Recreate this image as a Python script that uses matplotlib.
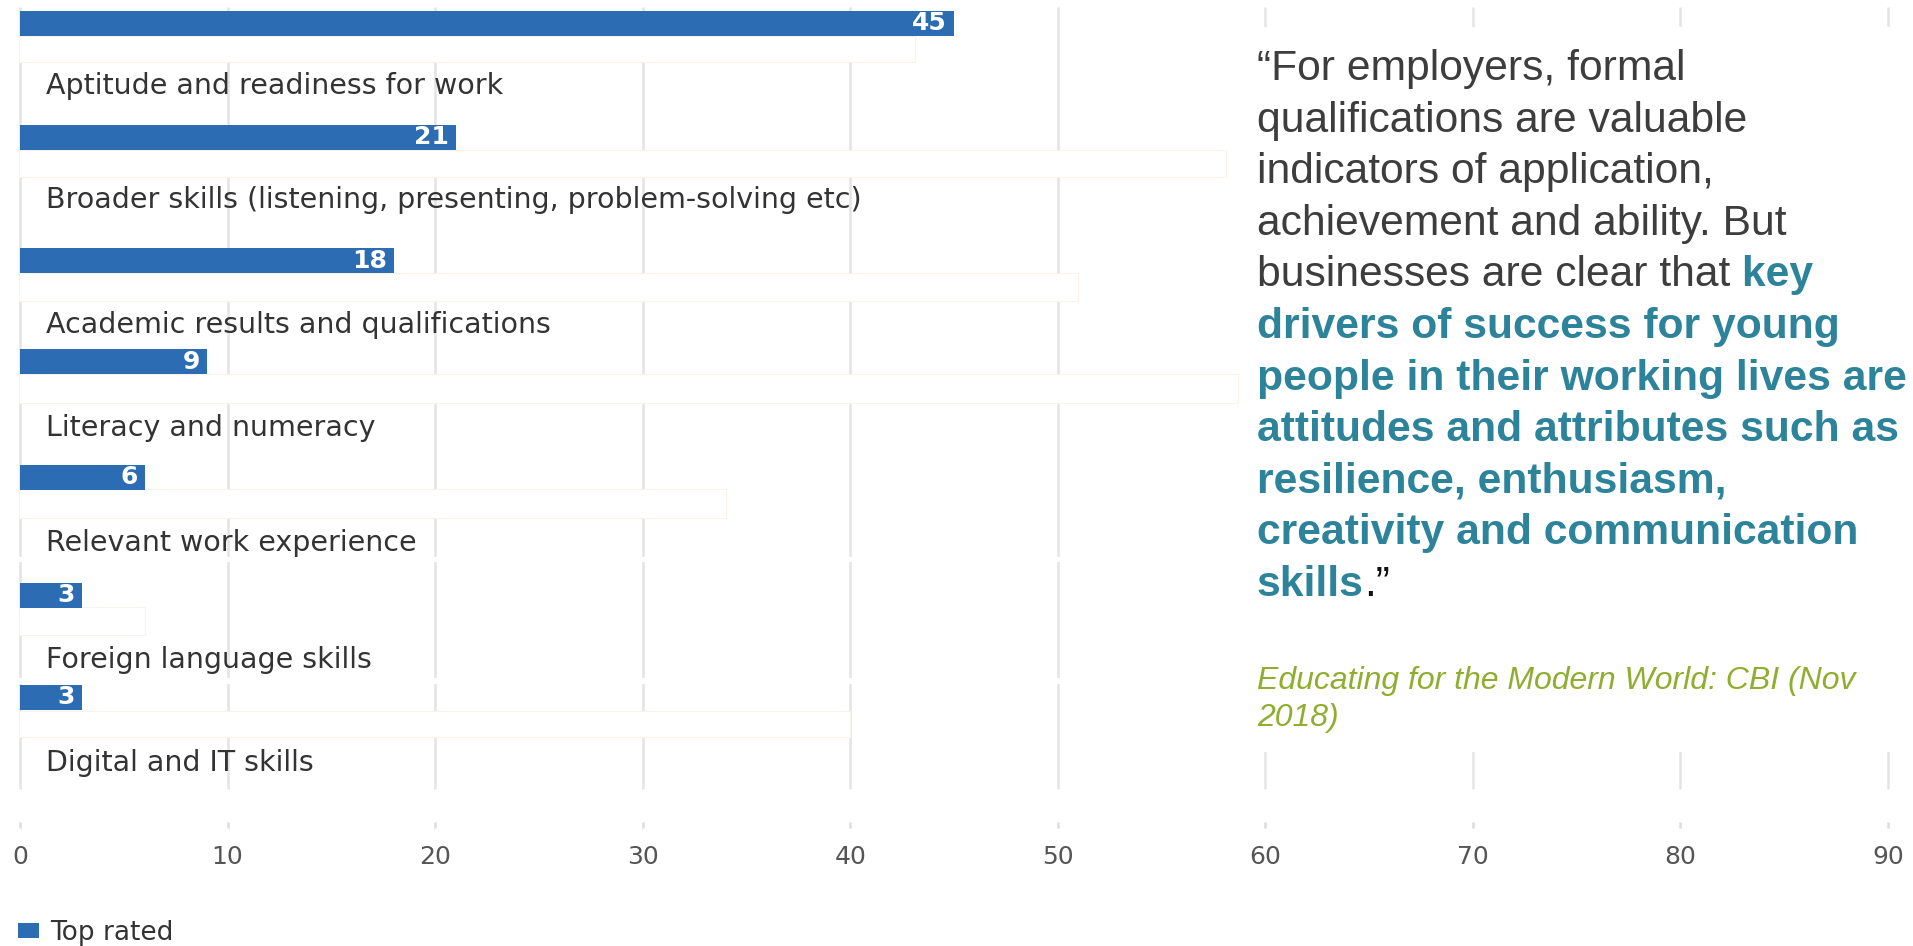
import matplotlib
matplotlib.use("Agg")
import matplotlib.pyplot as plt
from matplotlib.patches import Rectangle

# ---------------- data ----------------
categories = [
    "Aptitude and readiness for work",
    "Broader skills (listening, presenting, problem-solving etc)",
    "Academic results and qualifications",
    "Literacy and numeracy",
    "Relevant work experience",
    "Foreign language skills",
    "Digital and IT skills",
]
values = [45, 21, 18, 9, 6, 3, 3]
series_name = "Top rated"
x_ticks = [0, 10, 20, 30, 40, 50, 60, 70, 80, 90]

quote_lines = [
    [("\u201cFor employers, formal", "n")],
    [("qualifications are valuable", "n")],
    [("indicators of application,", "n")],
    [("achievement and ability. But", "n")],
    [("businesses are clear that", "n"), (" key", "b")],
    [("drivers of success for young", "b")],
    [("people in their working lives are", "b")],
    [("attitudes and attributes such as", "b")],
    [("resilience, enthusiasm,", "b")],
    [("creativity and communication", "b")],
    [("skills", "b"), (".\u201d", "k")],
]
source_lines = ["Educating for the Modern World: CBI (Nov", "2018)"]

# ---------------- layout (pixels) ----------------
W, H = 1913, 946
PX0, PX90 = 20, 1888
bar_y = [23.5, 137.5, 260.5, 361.5, 477, 595, 697]
label_y = [86, 200, 325, 428, 543, 660, 763]
bar_h = 25
# white masking strips (x_end, y_top, y_bottom, faint_edge)
masks = [
    (915, 36, 62, True),
    (1226, 150, 177, True),
    (1078, 273, 301, True),
    (1238, 374, 403, True),
    (726, 489, 518, True),
    (145, 607, 635, True),
    (850, 711, 737, True),
    (1238, 557, 562, False),
    (1238, 678, 684, False),
]

BLUE = "#2b6cb3"
GRID = "#e4e4e4"
TXT = "#333333"
TEAL = "#2d849a"
OLIVE = "#8fae2f"
QUOTE = "#3d3d3d"


def px2x(p):
    return (p - PX0) * 90.0 / (PX90 - PX0)


fig = plt.figure(figsize=(W / 100, H / 100), dpi=100)
fig.patch.set_facecolor("white")
ax = fig.add_axes([0, 0, 1, 1])
ax.set_xlim(px2x(0), px2x(W))
ax.set_ylim(H, 0)
ax.axis("off")

# gridlines and ticks
ax.vlines(x_ticks, 7, 789, color=GRID, lw=1.8, zorder=1)
ax.vlines(x_ticks, 822, 828, color="#dcdcdc", lw=1.8, zorder=1)
for t in x_ticks:
    ax.text(t, 857, str(t), ha="center", va="center", fontsize=18,
            color="#555555", family="DejaVu Sans")

# masks
for xe, y0, y1, edge in masks:
    r = Rectangle((px2x(PX0 - 1), y0), px2x(xe) - px2x(PX0 - 1), y1 - y0,
                  facecolor="white", edgecolor="#fdf2ea" if edge else "none",
                  lw=0.8, zorder=2)
    ax.add_patch(r)

# text box area on the right
ax.add_patch(Rectangle((px2x(1240), 27), px2x(W + 5) - px2x(1240), 752 - 27,
                       facecolor="white", edgecolor="none", zorder=2))

# bars
bars = ax.barh(bar_y, values, height=bar_h, left=0, color=BLUE, zorder=3,
               label=series_name)
for v, y in zip(values, bar_y):
    ax.text(v - 0.34, y, str(v), ha="right", va="center", color="white",
            fontweight="bold", fontsize=18, zorder=4, family="DejaVu Sans")

# category labels
for c, y in zip(categories, label_y):
    ax.text(px2x(46), y, c, ha="left", va="center", fontsize=20.5, color=TXT,
            zorder=4, family="DejaVu Sans")

# legend
leg = ax.legend(handles=[bars], labels=[series_name], loc="center left",
                bbox_to_anchor=(18 / W, 1 - 933 / H),
                bbox_transform=fig.transFigure, frameon=False,
                handlelength=0.8, handleheight=0.46, handletextpad=0.42,
                borderpad=0, borderaxespad=0,
                prop={"family": "DejaVu Sans", "size": 19})
for t in leg.get_texts():
    t.set_color(TXT)

# quote
qfam = "Liberation Sans"
QS = 30.7
styles = {
    "n": dict(color=QUOTE, fontweight="normal"),
    "b": dict(color=TEAL, fontweight="bold"),
    "k": dict(color="#111111", fontweight="normal"),
}
qx = px2x(1257)
y0, step = 69, 51.6
for i, pieces in enumerate(quote_lines):
    y = y0 + i * step
    prev = None
    for s, st in pieces:
        if prev is None:
            prev = ax.text(qx, y, s, ha="left", va="center", fontsize=QS,
                           family=qfam, zorder=5, **styles[st])
        else:
            prev = ax.annotate(s, xy=(1, 0.5), xycoords=prev, ha="left",
                               va="center", fontsize=QS, family=qfam,
                               zorder=5, **styles[st])

for i, s in enumerate(source_lines):
    ax.text(qx, 681 + i * 37, s, ha="left", va="center", fontsize=23,
            family=qfam, style="italic", color=OLIVE, zorder=5)

fig.savefig("out.png", dpi=100, facecolor="white")
